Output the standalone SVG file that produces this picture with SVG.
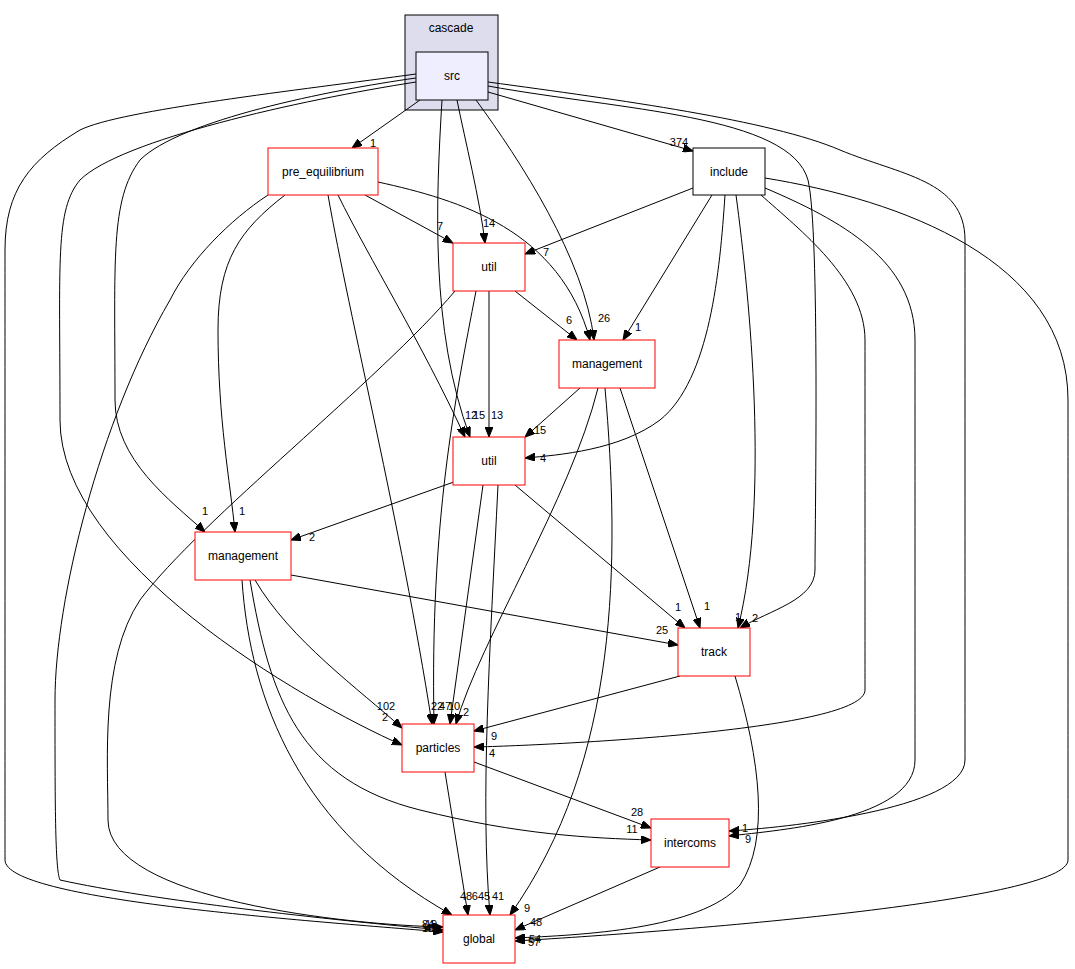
<svg xmlns="http://www.w3.org/2000/svg" width="1075" height="969" viewBox="0 0 1075 969">
<defs>
<marker id="ah" markerWidth="10" markerHeight="8" refX="10" refY="4" orient="auto" markerUnits="userSpaceOnUse">
<path d="M0,0 L10,4 L0,8 z" fill="#000" stroke="#000" stroke-width="1"/>
</marker>
<style>
.e{fill:none;stroke:#000;stroke-width:1;marker-end:url(#ah)}
.n{fill:#fff;stroke:#f00;stroke-width:1}
.t{font-family:"Liberation Sans",Arial,sans-serif;font-size:12px;text-anchor:middle;fill:#000}
.l{font-family:"Liberation Sans",Arial,sans-serif;font-size:11px;text-anchor:middle;fill:#000}
</style>
</defs>
<rect width="1075" height="969" fill="#fff"/>
<g id="cluster_cascade">
<rect x="405" y="15" width="93" height="95" fill="#ddddee" stroke="#000"/>
<text class="t" x="451" y="32">cascade</text>
</g>
<g id="edges">
<path class="e" d="M420,100 L352,148"/><text class="l" x="373" y="147">1</text>
<path class="e" d="M457,100 C465,140 480,200 485,243"/><text class="l" x="489" y="227">14</text>
<path class="e" d="M442,100 C436,200 430,330 470,437"/>
<path class="e" d="M476,100 C520,160 585,260 594,340"/><text class="l" x="604" y="322">26</text>
<path class="e" d="M488,92 L693,151"/><text class="l" x="679" y="146">374</text>
<path class="e" d="M488,86 C620,110 790,115 808,180 C820,230 815,520 815,570 C815,600 770,610 740,628"/><text class="l" x="755" y="622">2</text>
<path class="e" d="M488,82 C620,100 770,120 840,150 C900,175 965,180 965,240 C965,400 965,700 965,760 C965,810 780,828 729,831"/><text class="l" x="745" y="832">1</text>
<path class="e" d="M416,78 C330,90 180,120 140,160 C110,200 115,260 115,400 C115,460 170,500 205,532"/><text class="l" x="205" y="515">1</text>
<path class="e" d="M416,82 C300,100 120,140 80,180 C55,210 60,260 60,420 C60,560 300,700 402,745"/><text class="l" x="385" y="721">2</text>
<path class="e" d="M416,74 C300,90 120,110 80,130 C30,160 5,190 5,250 C5,400 5,800 5,860 C5,900 300,920 443,932"/>
<path class="e" d="M365,195 L453,243"/><text class="l" x="440" y="230">7</text>
<path class="e" d="M378,182 C460,200 560,230 590,340"/>
<path class="e" d="M338,195 C370,260 420,340 465,437"/>
<path class="e" d="M328,195 C350,320 400,520 432,724"/>
<path class="e" d="M285,195 C240,230 218,260 218,330 C218,420 230,480 235,532"/><text class="l" x="242" y="515">1</text>
<path class="e" d="M268,195 C230,220 190,260 170,300 C100,420 55,600 55,700 C55,800 55,870 60,880 C150,900 330,920 443,930"/>
<path class="e" d="M693,188 L525,254"/><text class="l" x="546" y="256">7</text>
<path class="e" d="M712,195 L623,340"/><text class="l" x="638" y="331">1</text>
<path class="e" d="M725,195 C720,270 710,380 660,420 C620,450 560,455 525,458"/><text class="l" x="543" y="462">4</text>
<path class="e" d="M736,195 C750,300 770,500 738,628"/><text class="l" x="738" y="621">1</text>
<path class="e" d="M761,195 C800,230 865,280 865,340 C865,460 865,640 865,690 C865,730 560,745 474,747"/><text class="l" x="492" y="757">4</text>
<path class="e" d="M765,188 C840,220 915,260 915,340 C915,500 915,700 915,760 C915,820 780,830 729,836"/><text class="l" x="748" y="843">9</text>
<path class="e" d="M765,178 C900,200 1068,260 1068,400 C1068,600 1068,820 1068,860 C1068,900 700,930 515,941"/><text class="l" x="534" y="946">57</text><text class="l" x="535" y="943">54</text>
<path class="e" d="M515,291 L577,340"/><text class="l" x="569" y="324">6</text>
<path class="e" d="M489,291 L489,437"/><text class="l" x="497" y="419">13</text>
<path class="e" d="M476,291 C455,400 430,520 434,724"/>
<path class="e" d="M455,291 C380,380 200,520 140,600 C100,660 108,760 108,820 C108,900 350,925 443,927"/>
<text class="l" x="471" y="419">12</text><text class="l" x="479" y="419">15</text>
<path class="e" d="M580,388 L525,437"/><text class="l" x="540" y="434">15</text>
<path class="e" d="M598,388 C570,500 480,640 456,724"/><text class="l" x="466" y="716">2</text>
<path class="e" d="M605,388 C620,560 620,760 510,915"/><text class="l" x="527" y="912">9</text>
<path class="e" d="M620,388 L700,628"/><text class="l" x="707" y="610">1</text>
<path class="e" d="M465,478 L291,540"/><text class="l" x="312" y="541">2</text>
<path class="e" d="M483,485 L450,724"/>
<path class="e" d="M498,485 C490,650 480,800 490,915"/><text class="l" x="498" y="900">41</text>
<path class="e" d="M515,485 L685,628"/><text class="l" x="678" y="611">1</text>
<path class="e" d="M291,575 L678,645"/><text class="l" x="662" y="634">25</text>
<path class="e" d="M255,580 C290,640 360,690 402,728"/><text class="l" x="386" y="710">102</text>
<path class="e" d="M250,580 C270,700 300,780 420,810 C520,835 590,838 651,840"/><text class="l" x="632" y="833">11</text>
<path class="e" d="M242,580 C250,700 300,830 452,915"/><text class="l" x="466" y="900">48</text>
<path class="e" d="M680,676 L474,731"/><text class="l" x="494" y="740">9</text>
<path class="e" d="M735,676 C760,760 770,840 740,885 C700,930 580,935 515,938"/>
<path class="e" d="M474,762 L651,828"/><text class="l" x="637" y="816">28</text>
<path class="e" d="M445,772 L468,915"/><text class="l" x="481" y="900">645</text>
<path class="e" d="M660,867 L515,930"/><text class="l" x="536" y="926">48</text>
<text class="l" x="437" y="710">22</text><text class="l" x="445" y="710">47</text><text class="l" x="454" y="710">10</text>
<text class="l" x="428" y="928">84</text><text class="l" x="431" y="928">19</text><text class="l" x="428" y="932">18</text><text class="l" x="431" y="932">49</text>
</g>
<g id="node_src"><rect x="416" y="52" width="72" height="48" fill="#eeeeff" stroke="#000"/><text class="t" x="452" y="80">src</text></g>
<g id="node_pre_equilibrium"><rect class="n" x="268" y="148" width="110" height="47"/><text class="t" x="323" y="176">pre_equilibrium</text></g>
<g id="node_include"><rect x="693" y="148" width="72" height="47" fill="#fff" stroke="#000"/><text class="t" x="729" y="176">include</text></g>
<g id="node_util1"><rect class="n" x="453" y="243" width="72" height="48"/><text class="t" x="489" y="271">util</text></g>
<g id="node_management1"><rect class="n" x="559" y="340" width="96" height="48"/><text class="t" x="607" y="368">management</text></g>
<g id="node_util2"><rect class="n" x="453" y="437" width="72" height="48"/><text class="t" x="489" y="465">util</text></g>
<g id="node_management2"><rect class="n" x="195" y="532" width="96" height="48"/><text class="t" x="243" y="560">management</text></g>
<g id="node_track"><rect class="n" x="678" y="628" width="72" height="48"/><text class="t" x="714" y="656">track</text></g>
<g id="node_particles"><rect class="n" x="402" y="724" width="72" height="48"/><text class="t" x="438" y="752">particles</text></g>
<g id="node_intercoms"><rect class="n" x="651" y="819" width="78" height="48"/><text class="t" x="690" y="847">intercoms</text></g>
<g id="node_global"><rect class="n" x="443" y="915" width="72" height="48"/><text class="t" x="479" y="943">global</text></g>
</svg>
